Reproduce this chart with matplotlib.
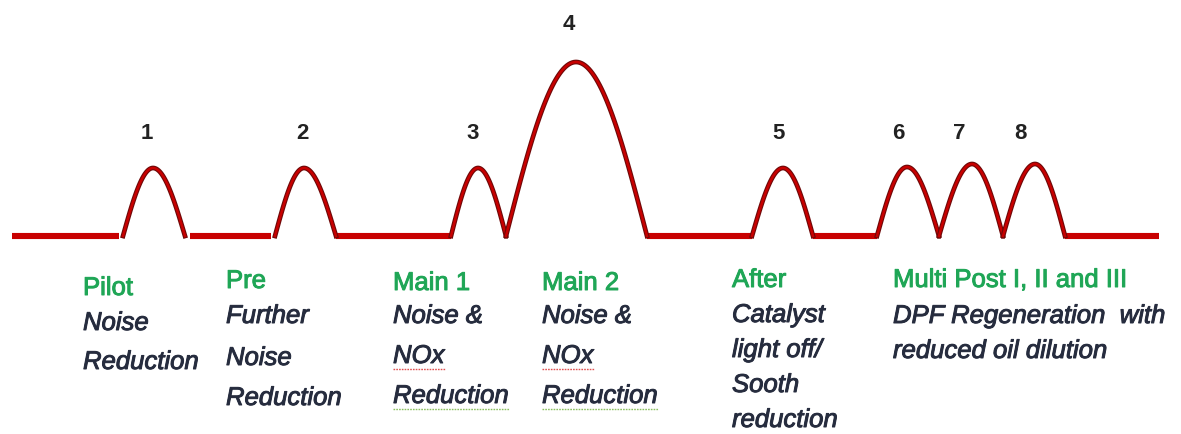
import numpy as np
import matplotlib.pyplot as plt
import matplotlib.patheffects as pe

# injection pulses: start, peak, end (crank position) and pulse height
pulse_start = [123, 275, 451, 506, 752, 877, 939, 1003]
pulse_peak = [153, 304, 478, 576, 783, 907, 972, 1035]
pulse_end = [185, 336, 506, 647, 813, 939, 1003, 1065]
pulse_height = [68, 68, 68, 174, 68, 69, 72, 72]
pulse_numbers = ["1", "2", "3", "4", "5", "6", "7", "8"]

# flat parts of the trace between pulses
flat_start = [12, 190, 336, 647, 813, 1065]
flat_end = [119, 271, 451, 752, 877, 1159]

headings = ["Pilot", "Pre", "Main 1", "Main 2", "After", "Multi Post I, II and III"]
descriptions = [
    ["Noise", "Reduction"],
    ["Further", "Noise", "Reduction"],
    ["Noise &", "NOx", "Reduction"],
    ["Noise &", "NOx", "Reduction"],
    ["Catalyst", "light off/", "Sooth", "reduction"],
    ["DPF Regeneration  with", "reduced oil dilution"],
]

# layout (pixels from top of the image)
num_x = [147, 302, 473, 569, 779, 898, 959, 1020]
num_y = [139, 139, 139, 30, 139, 139, 139, 139]
col_x = [83, 226, 393, 542, 732, 893]
col_lines_y = [
    [295, 330, 369],
    [288, 323, 365, 405],
    [290, 323, 363, 403],
    [290, 323, 363, 403],
    [287, 322, 357, 392, 427],
    [287, 323, 358],
]
base_px = 236

fig = plt.figure(figsize=(11.81, 4.34), dpi=100)
ax = fig.add_axes([0, 0, 1, 1])
ax.set_xlim(0, 1181)
ax.set_ylim(base_px - 434, base_px)
ax.axis("off")

red = "#c80000"
dark = "#6e0808"

for a, b in zip(flat_start, flat_end):
    ax.plot([a, b], [0, 0], color=red, lw=4.4, solid_capstyle="butt")

for s, p, e, h in zip(pulse_start, pulse_peak, pulse_end, pulse_height):
    x1 = np.linspace(s, p, 40)
    x2 = np.linspace(p, e, 40)
    y1 = h * np.sin(0.5 * np.pi * (x1 - s) / (p - s))
    y2 = h * np.sin(0.5 * np.pi * (e - x2) / (e - p))
    xs = np.concatenate([x1, x2])
    ys = np.concatenate([y1, y2])
    ax.plot(xs, ys, color=dark, lw=3.4, solid_joinstyle="round")
    ax.plot(xs, ys, color=red, lw=1.8, solid_joinstyle="round")

for num, x, y in zip(pulse_numbers, num_x, num_y):
    ax.text(x, base_px - y, num, ha="center", va="baseline",
            fontsize=16, fontweight="bold", color="#222222",
            family="Liberation Sans")

green = "#1fa656"
navy = "#262c3e"
thick_g = [pe.withStroke(linewidth=0.7, foreground=green)]
thick_n = [pe.withStroke(linewidth=0.7, foreground=navy)]
body_texts = []
for x, head, lines, ys in zip(col_x, headings, descriptions, col_lines_y):
    ax.text(x, base_px - ys[0], head, ha="left", va="baseline",
            fontsize=18.5, color=green, family="Liberation Sans",
            path_effects=thick_g)
    for txt, y in zip(lines, ys[1:]):
        t = ax.text(x, base_px - y, txt, ha="left", va="baseline",
                    fontsize=18.5, style="italic", color=navy,
                    family="Liberation Sans", path_effects=thick_n)
        body_texts.append((txt, x, y, t))

# spell-check squiggles under NOx (red) and Reduction (green) in the main columns
fig.canvas.draw()
inv = ax.transData.inverted()
for txt, x, y, t in body_texts:
    if x not in (393, 542) or txt not in ("NOx", "Reduction"):
        continue
    bb = t.get_window_extent()
    x0, _ = inv.transform((bb.x0, bb.y0))
    x1, _ = inv.transform((bb.x1, bb.y0))
    c = "#e05050" if txt == "NOx" else "#8cc060"
    ax.plot([x0, x1], [base_px - y - 6, base_px - y - 6], color=c,
            lw=1.0, ls=(0, (1.2, 0.8)))

fig.savefig("out.png", dpi=100)
